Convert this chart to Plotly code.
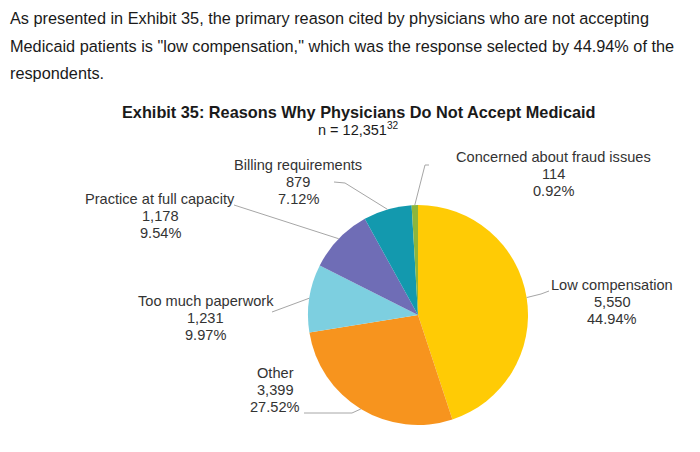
import math
import plotly.graph_objects as go

# ---- data ----
categories = ["Low compensation", "Other", "Too much paperwork",
              "Practice at full capacity", "Billing requirements",
              "Concerned about fraud issues"]
counts = [5550, 3399, 1231, 1178, 879, 114]
percents = ["44.94%", "27.52%", "9.97%", "9.54%", "7.12%", "0.92%"]
count_labels = ["5,550", "3,399", "1,231", "1,178", "879", "114"]
colors = ["#FFCB05", "#F7941E", "#7DCFE0", "#6F6DB6", "#1399AE", "#8DB63C"]

W, H = 700, 452
CX, CY, R = 418, 315, 110  # pie centre / radius in pixels (style)
FONT = "Liberation Sans, Arial"

# label text anchor (centre of first text line, pixels) and leader-line start points
label_pos = {
    "Low compensation": (612, 285),
    "Other": (275, 373),
    "Too much paperwork": (206, 301),
    "Practice at full capacity": (160, 199),
    "Billing requirements": (298, 165),
    "Concerned about fraud issues": (553, 157),
}
leader_start = {
    "Low compensation": [(549, 291), (541, 294)],
    "Other": [(304, 413), (352, 413)],
    "Too much paperwork": [(272, 312)],
    "Practice at full capacity": [(234, 205)],
    "Billing requirements": [(334, 182), (345, 183)],
    "Concerned about fraud issues": [(429, 165), (425, 165)],
}

fig = go.Figure(go.Pie(
    labels=categories, values=counts, sort=False, direction="clockwise",
    rotation=0, textinfo="none", hoverinfo="label+value+percent",
    marker=dict(colors=colors, line=dict(width=0)),
    domain=dict(x=[(CX - R) / W, (CX + R) / W],
                y=[(H - CY - R) / H, (H - CY + R) / H]),
    showlegend=False,
))

def px(x, y):
    return x / W, 1 - y / H

def text(xp, yp, s, size, anchor="center", color="#333333"):
    x, y = px(xp, yp)
    return dict(x=x, y=y, xref="paper", yref="paper", showarrow=False,
                text=s, xanchor=anchor, yanchor="middle",
                font=dict(family=FONT, size=size, color=color))

total = sum(counts)
cum = 0
shapes = []
annotations = []
for cat, v, cl, pc in zip(categories, counts, count_labels, percents):
    mid = (cum + v / 2) / total * 2 * math.pi
    cum += v
    ex = CX + R * math.sin(mid)
    ey = CY - R * math.cos(mid)
    pts = leader_start[cat] + [(ex, ey)]
    path = "M " + " L ".join(f"{px(a, b)[0]},{px(a, b)[1]}" for a, b in pts)
    shapes.append(dict(type="path", path=path, xref="paper", yref="paper",
                       line=dict(color="#A6A6A6", width=1)))
    lx, ly = label_pos[cat]
    for k, s in enumerate([cat, cl, pc]):
        annotations.append(text(lx, ly + 17 * k, s, 14.6))

para = ["As presented in Exhibit 35, the primary reason cited by physicians who are not accepting",
        "Medicaid patients is \"low compensation,\" which was the response selected by 44.94% of the",
        "respondents."]
for i, line in enumerate(para):
    annotations.append(text(8, 18 + 27.5 * i, line, 16.3, anchor="left", color="#1a1a1a"))

annotations.append(text(358, 112, "<b>Exhibit 35: Reasons Why Physicians Do Not Accept Medicaid</b>",
                        16.3, color="#1a1a1a"))
annotations.append(text(358, 129, "n = 12,351<sup>32</sup>", 14.5, color="#1a1a1a"))

fig.update_layout(width=W, height=H, margin=dict(l=0, r=0, t=0, b=0),
                  paper_bgcolor="white", plot_bgcolor="white",
                  shapes=shapes, annotations=annotations)
fig.write_html("out.html", config={"displayModeBar": False},
               post_script="document.body.style.margin='0';document.body.style.overflow='hidden';")
